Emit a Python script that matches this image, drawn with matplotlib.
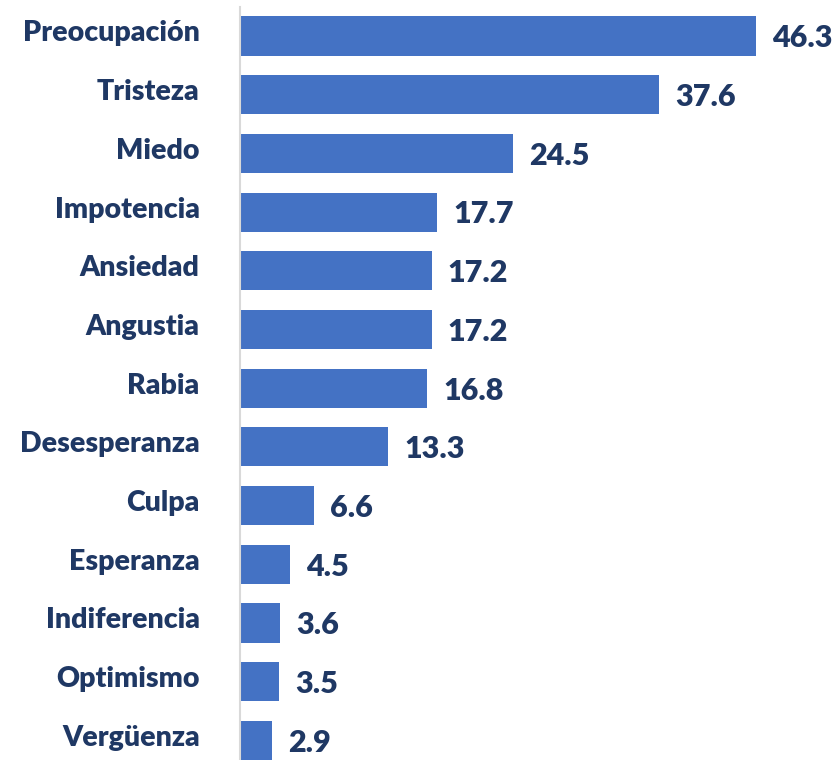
import matplotlib
matplotlib.use("Agg")
import matplotlib.pyplot as plt
from matplotlib.transforms import ScaledTranslation

categorias = ['Preocupación', 'Tristeza', 'Miedo', 'Impotencia', 'Ansiedad', 'Angustia',
              'Rabia', 'Desesperanza', 'Culpa', 'Esperanza', 'Indiferencia', 'Optimismo',
              'Vergüenza']
valores = [46.3, 37.6, 24.5, 17.7, 17.2, 17.2, 16.8, 13.3, 6.6, 4.5, 3.6, 3.5, 2.9]

azul = '#4472C4'
texto = '#1F3864'

plt.rcParams['font.family'] = ['Lato', 'DejaVu Sans']

fig = plt.figure(figsize=(8.35, 7.6), dpi=100)
ax = fig.add_axes([240 / 835, 0, 595 / 835, 1])

pos = list(range(len(categorias)))
ax.barh(pos, valores, height=0.665, color=azul)

# Etiquetas de valor al final de cada barra
for p, v in zip(pos, valores):
    ax.text(v + 1.45, p + 0.04, f'{v:.1f}', va='center', ha='left',
            fontsize=22, fontweight='heavy', color=texto)

ax.set_xlim(0, 46.3 * 595 / 516)
ax.set_ylim(12.334, -0.613)
ax.set_yticks(pos)
ax.set_yticklabels(categorias, fontsize=20.5, fontweight='heavy', color=texto)
ax.tick_params(axis='y', length=0, pad=29)
ax.set_xticks([])

# subir un poco las etiquetas de categoria
desplaza = ScaledTranslation(0, 0.05, fig.dpi_scale_trans)
for lab in ax.get_yticklabels():
    lab.set_transform(lab.get_transform() + desplaza)

for s in ['top', 'right', 'bottom']:
    ax.spines[s].set_visible(False)
ax.spines['left'].set_color('#D9D9D9')
ax.spines['left'].set_linewidth(1.5)
ax.spines['left'].set_bounds(-0.5, 12.4)

fig.savefig('out.png', dpi=100)
